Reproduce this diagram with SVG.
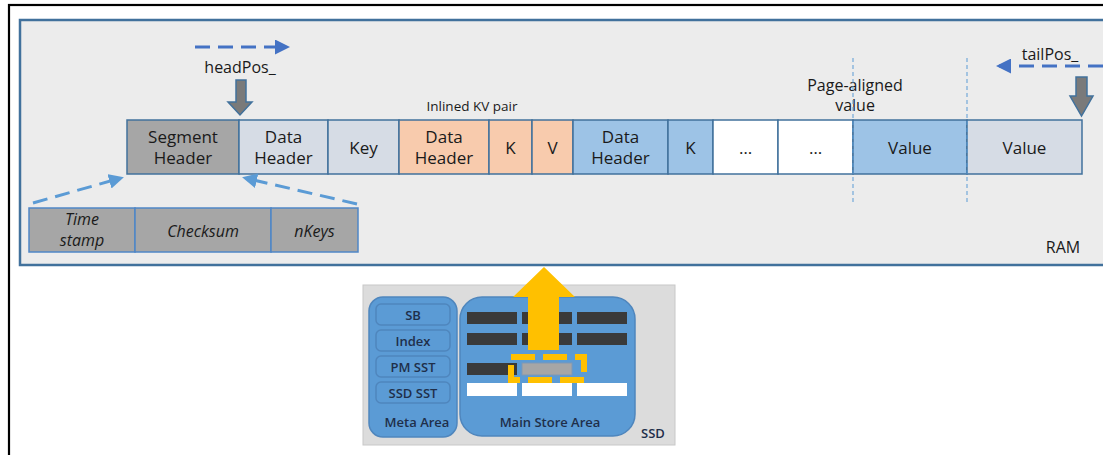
<svg xmlns="http://www.w3.org/2000/svg" width="1103" height="455" viewBox="0 0 1103 455">
  <style>
    .t { font-family: "Open Sans", "Liberation Sans", sans-serif; font-size: 17px; fill: #1a1a1a; text-anchor: middle; }
    .ti { font-style: italic; font-size: 16px; }
    .sm { font-size: 13.5px; }
    .lbl { font-size: 16px; }
    .cell { stroke: #41719c; stroke-width: 1.5; }
    .gray { fill: #a6a6a6; }
    .pale { fill: #d6dce5; }
    .orange { fill: #f8cbad; }
    .blue { fill: #9dc3e6; }
    .white { fill: #ffffff; }
    .dash { fill: none; stroke-width: 3; stroke-dasharray: 15 8; }
    .ptr { fill: #7a7a7a; stroke: #41719c; stroke-width: 1.5; }
    .ssdt { font-family: "Open Sans", "Liberation Sans", sans-serif; font-size: 13px; fill: #1f2f4a; text-anchor: middle; font-weight: 600; }
    .bar { fill: #3a3a3a; }
    .wbar { fill: #ffffff; }
    .meta { fill: #5b9bd5; stroke: #4f86bd; stroke-width: 1.5; }
  </style>
  <defs>
    <marker id="ahDark" viewBox="0 0 10 10" refX="8" refY="5" markerWidth="5" markerHeight="5" orient="auto">
      <path d="M0,0 L10,5 L0,10 z" fill="#4472c4"/>
    </marker>
    <marker id="ahLight" viewBox="0 0 10 10" refX="8" refY="5" markerWidth="5" markerHeight="5" orient="auto">
      <path d="M0,0 L10,5 L0,10 z" fill="#5b9bd5"/>
    </marker>
  </defs>

  <rect width="1103" height="455" fill="#ffffff"/>
  <!-- outer frame -->
  <rect x="9" y="5" width="1120" height="470" fill="none" stroke="#000" stroke-width="2.2"/>

  <!-- RAM panel -->
  <g id="ram">
    <rect x="20" y="20" width="1100" height="245" fill="#ececec" stroke="#41719c" stroke-width="2.5"/>
    <text class="t lbl" x="1063" y="253">RAM</text>
  </g>

  <!-- segment row -->
  <g id="segment-header"><rect class="cell gray" x="127" y="120" width="112" height="54"/><text class="t" x="183" y="143">Segment</text><text class="t" x="183" y="164">Header</text></g>
  <g id="data-header-1"><rect class="cell pale" x="239" y="120" width="89" height="54"/><text class="t" x="283.5" y="143">Data</text><text class="t" x="283.5" y="164">Header</text></g>
  <g id="key-1"><rect class="cell pale" x="328" y="120" width="71" height="54"/><text class="t" x="363.5" y="154">Key</text></g>
  <g id="data-header-2"><rect class="cell orange" x="399" y="120" width="90" height="54"/><text class="t" x="444" y="143">Data</text><text class="t" x="444" y="164">Header</text></g>
  <g id="k-2"><rect class="cell orange" x="489" y="120" width="43" height="54"/><text class="t" x="510.5" y="154">K</text></g>
  <g id="v-2"><rect class="cell orange" x="532" y="120" width="41" height="54"/><text class="t" x="552.5" y="154">V</text></g>
  <g id="data-header-3"><rect class="cell blue" x="573" y="120" width="95" height="54"/><text class="t" x="620.5" y="143">Data</text><text class="t" x="620.5" y="164">Header</text></g>
  <g id="k-3"><rect class="cell blue" x="668" y="120" width="45" height="54"/><text class="t" x="690.5" y="154">K</text></g>
  <g id="ellipsis-1"><rect class="cell white" x="713" y="120" width="65" height="54"/><text class="t" x="745.5" y="154">…</text></g>
  <g id="ellipsis-2"><rect class="cell white" x="778" y="120" width="75" height="54"/><text class="t" x="815.5" y="154">…</text></g>
  <g id="value-1"><rect class="cell blue" x="853" y="120" width="114" height="54"/><text class="t" x="910" y="154">Value</text></g>
  <g id="value-2"><rect class="cell pale" x="967" y="120" width="115" height="54"/><text class="t" x="1024.5" y="154">Value</text></g>

  <!-- segment header fields -->
  <g id="timestamp"><rect class="cell gray" x="29" y="208" width="106" height="44" style="stroke:#4f86c6"/><text class="t ti" x="82" y="225">Time</text><text class="t ti" x="82" y="246">stamp</text></g>
  <g id="checksum"><rect class="cell gray" x="135" y="208" width="136" height="44" style="stroke:#4f86c6"/><text class="t ti" x="203" y="237">Checksum</text></g>
  <g id="nkeys"><rect class="cell gray" x="271" y="208" width="87" height="44" style="stroke:#4f86c6"/><text class="t ti" x="314.5" y="237">nKeys</text></g>

  <!-- labels -->
  <g id="labels">
    <text class="t sm" x="472" y="111">Inlined KV pair</text>
    <text class="t lbl" x="855" y="91">Page-aligned</text>
    <text class="t lbl" x="855" y="111">value</text>
    <text class="t lbl" x="240" y="73">headPos_</text>
    <text class="t lbl" x="1050" y="60">tailPos_</text>
  </g>

  <!-- connectors -->
  <g id="connectors">
    <!-- page boundaries -->
    <line x1="853" y1="58" x2="853" y2="204" stroke="#5b9bd5" stroke-width="1" stroke-dasharray="4 3"/>
    <line x1="967" y1="58" x2="967" y2="204" stroke="#5b9bd5" stroke-width="1" stroke-dasharray="4 3"/>
    <!-- head / tail movement -->
    <line class="dash" x1="195" y1="47" x2="287" y2="47" stroke="#4472c4" marker-end="url(#ahDark)"/>
    <line class="dash" x1="1103" y1="66" x2="999" y2="66" stroke="#4472c4" marker-end="url(#ahDark)"/>
    <!-- field expansion -->
    <line class="dash" x1="33" y1="203" x2="121" y2="178" stroke="#5b9bd5" stroke-width="2.5" stroke-dasharray="11 7" marker-end="url(#ahLight)"/>
    <line class="dash" x1="357" y1="204" x2="245" y2="178" stroke="#5b9bd5" stroke-width="2.5" stroke-dasharray="11 7" marker-end="url(#ahLight)"/>
    <!-- position pointers -->
    <path class="ptr" d="M236,80 H246 V102 H252 L240,115 L228,102 H236 Z"/>
    <path class="ptr" d="M1076,77 H1087 V96 H1093 L1081.5,116 L1070,96 H1076 Z"/>
  </g>

  <!-- SSD -->
  <g id="ssd">
    <rect x="363" y="285" width="312" height="160" fill="#dcdcdc" stroke="#c8c8c8" stroke-width="1"/>
    <text class="ssdt" x="653" y="438">SSD</text>
    <g id="meta-area">
      <rect class="meta" x="369" y="297" width="88" height="140" rx="14"/>
      <rect class="meta" x="376" y="304" width="74" height="21" rx="5"/>
      <rect class="meta" x="376" y="330" width="74" height="21" rx="5"/>
      <rect class="meta" x="376" y="356" width="74" height="21" rx="5"/>
      <rect class="meta" x="376" y="382" width="74" height="21" rx="5"/>
      <text class="ssdt" x="413" y="320">SB</text>
      <text class="ssdt" x="413" y="346">Index</text>
      <text class="ssdt" x="413" y="372">PM SST</text>
      <text class="ssdt" x="413" y="398">SSD SST</text>
      <text class="ssdt" x="417" y="427">Meta Area</text>
    </g>
    <g id="main-store-area">
      <rect class="meta" x="460" y="297" width="175" height="139" rx="22"/>
      <rect class="bar" x="467" y="312" width="50" height="12"/>
      <rect class="bar" x="522" y="312" width="50" height="12"/>
      <rect class="bar" x="577" y="312" width="50" height="12"/>
      <rect class="bar" x="467" y="333" width="50" height="12"/>
      <rect class="bar" x="522" y="333" width="50" height="12"/>
      <rect class="bar" x="577" y="333" width="50" height="12"/>
      <rect class="bar" x="467" y="363" width="50" height="12"/>
      <rect x="522" y="363" width="50" height="12" fill="#a6a6a6" stroke="#7f98b5" stroke-width="1"/>
      <rect class="wbar" x="467" y="383" width="50" height="13"/>
      <rect class="wbar" x="522" y="383" width="50" height="13"/>
      <rect class="wbar" x="577" y="383" width="50" height="13"/>
      <text class="ssdt" x="550" y="427">Main Store Area</text>
    </g>
    <!-- segment being loaded into memory -->
    <rect x="511" y="357" width="73" height="23" fill="none" stroke="#ffc000" stroke-width="6" stroke-dasharray="24 8"/>
    <path d="M528,350 V297 H513 L544,267 L575,297 H559 V350 Z" fill="#ffc000"/>
  </g>
</svg>
